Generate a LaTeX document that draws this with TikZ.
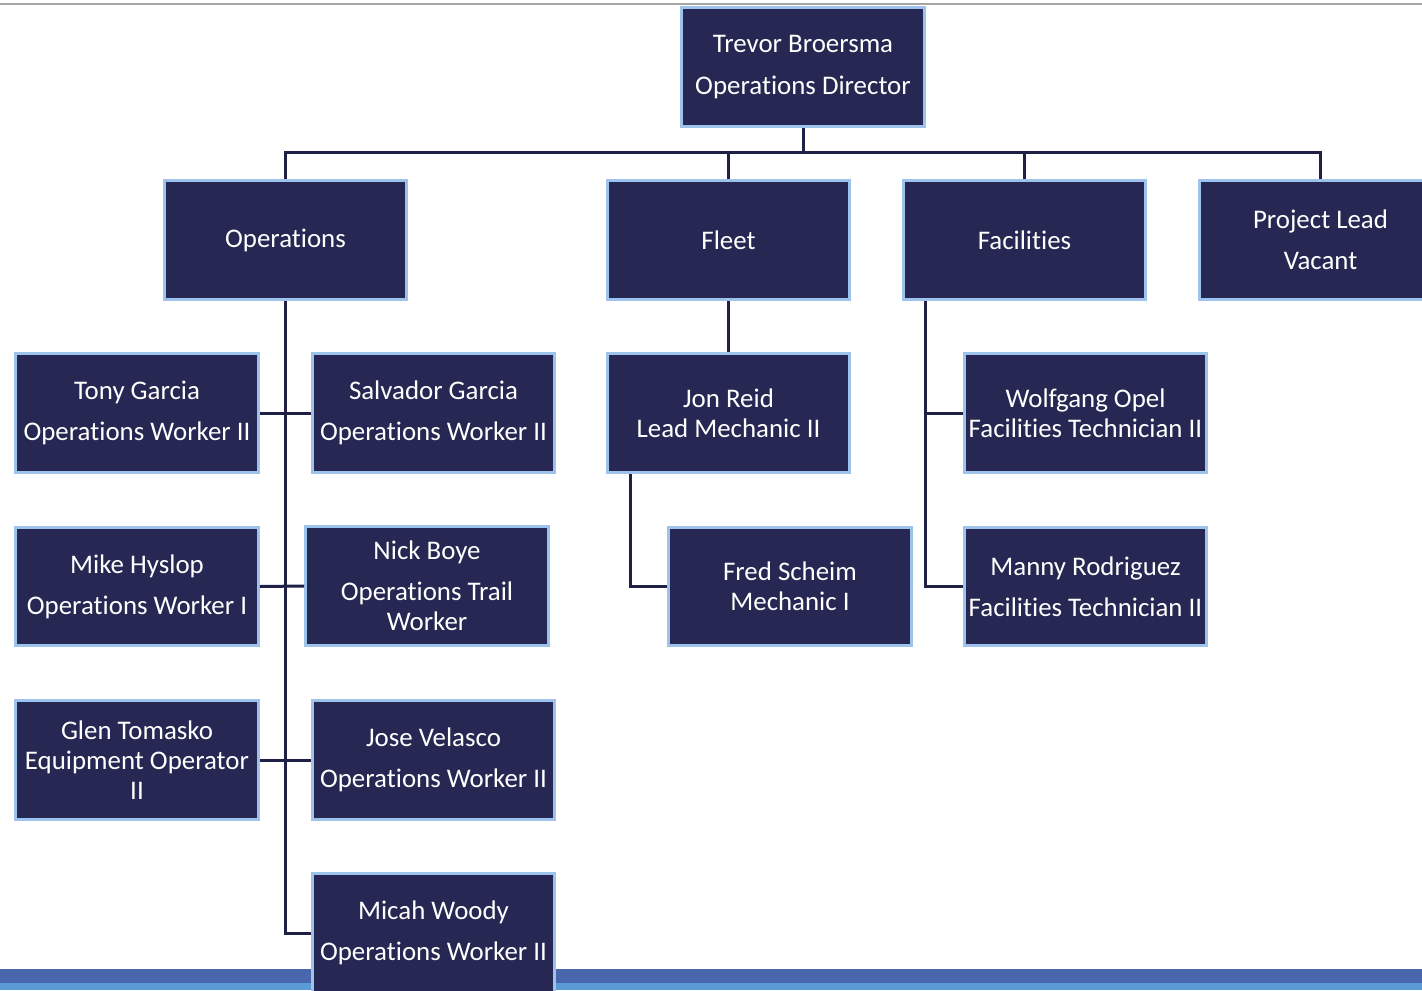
\documentclass[tikz,border=0pt]{standalone}
\usepackage{fontspec}
\setmainfont{Carlito}[Ligatures=NoCommon]
\usepackage{tikz}
\definecolor{boxfill}{RGB}{38,39,82}
\definecolor{boxedge}{RGB}{157,195,236}
\definecolor{linkcol}{RGB}{30,32,70}
\definecolor{bardark}{RGB}{74,103,173}
\definecolor{barlight}{RGB}{91,155,213}
\begin{document}
\begin{tikzpicture}[x=0.02cm, y=-0.02cm]
                    \tikzset{every node/.style={font=\fontsize{15.3pt}{17pt}\selectfont}}
                    \tikzset{orgbox/.style={draw=boxedge, fill=boxfill, text=white, line width=0.06cm, minimum width=4.86cm, minimum height=2.38cm, inner sep=0pt, align=center}}
                    \tikzset{link/.style={draw=linkcol, line width=0.06cm}}
                    \useasboundingbox (0,0) rectangle (1422,990);
                    \clip (0,0) rectangle (1422,990);
                    \draw[gray!70, line width=0.03cm] (0,4) -- (1422,4);
                    \fill[bardark] (0,969) rectangle (1422,983);
                    \fill[barlight] (0,983) rectangle (1422,990);
                    \node[orgbox] (director) at (803,67) {Trevor Broersma\\[6.5pt]Operations Director};
                    \node[orgbox] (ops) at (285.5,240) {Operations};
                    \node[orgbox] (fleet) at (728.5,240) {Fleet};
                    \node[orgbox] (facil) at (1024.5,240) {Facilities};
                    \node[orgbox] (proj) at (1320.5,240) {Project Lead\\[6.5pt]Vacant};
                    \node[orgbox] (tony) at (137,413) {Tony Garcia\\[6.5pt]Operations Worker II};
                    \node[orgbox] (salvador) at (433.5,413) {Salvador Garcia\\[6.5pt]Operations Worker II};
                    \node[orgbox] (mike) at (137,586.5) {Mike Hyslop\\[6.5pt]Operations Worker I};
                    \node[orgbox] (nick) at (427,586) {Nick Boye\\[6.5pt]Operations Trail\\Worker};
                    \node[orgbox] (glen) at (137,760) {Glen Tomasko\\Equipment Operator\\II};
                    \node[orgbox] (jose) at (433.5,760) {Jose Velasco\\[6.5pt]Operations Worker II};
                    \node[orgbox] (micah) at (433.5,933) {Micah Woody\\[6.5pt]Operations Worker II};
                    \node[orgbox] (jon) at (728.5,413) {Jon Reid\\Lead Mechanic II};
                    \node[orgbox] (fred) at (790,586.5) {Fred Scheim\\Mechanic I};
                    \node[orgbox] (wolfgang) at (1085.5,413) {Wolfgang Opel\\Facilities Technician II};
                    \node[orgbox] (manny) at (1085.5,586.5) {Manny Rodriguez\\[6.5pt]Facilities Technician II};
                    \coordinate (bus) at (803,152);
                    \coordinate (jx) at ([xshift=0.49cm]jon.south west);
                    \coordinate (fx) at ([xshift=0.47cm]facil.south west);
                    \draw[link] (director) -- (bus);
                    \draw[link] (ops.north) -- (ops.north |- bus) -- (proj.north |- bus) -- (proj.north);
                    \draw[link] (fleet.north) -- (fleet.north |- bus);
                    \draw[link] (facil.north) -- (facil.north |- bus);
                    \draw[link] (ops.south) |- (micah.west);
                    \draw[link] (tony.east) -- (salvador.west);
                    \draw[link] (mike.east) -- (nick.west);
                    \draw[link] (glen.east) -- (jose.west);
                    \draw[link] (fleet) -- (jon);
                    \draw[link] (jx) |- (fred.west);
                    \draw[link] (fx) |- (manny.west);
                    \draw[link] (wolfgang.west) -- (wolfgang.west -| fx);
                    \end{tikzpicture}
\end{document}
